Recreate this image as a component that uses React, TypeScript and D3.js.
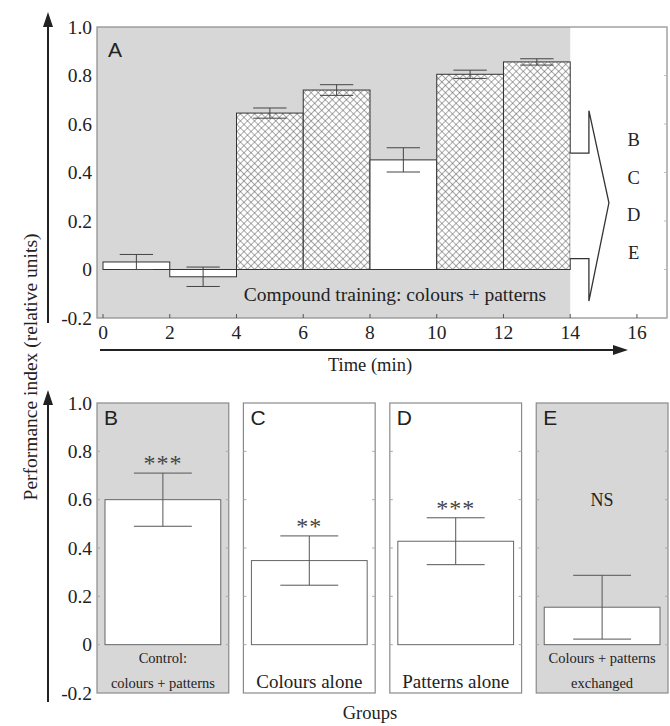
import * as d3 from "d3";

// top panel: 2-min bins during compound training
const timeStarts = [0, 2, 4, 6, 8, 10, 12];
const timeMeans = [0.031, -0.03, 0.645, 0.74, 0.452, 0.805, 0.856];
const timeErrs = [0.031, 0.04, 0.021, 0.022, 0.05, 0.017, 0.013];
const timeHatched = [false, false, true, true, false, true, true];
const timeTicks = [0, 2, 4, 6, 8, 10, 12, 14, 16];
const perfTicks = [1.0, 0.8, 0.6, 0.4, 0.2, 0, -0.2];
const perfTickLabels = ["1.0", "0.8", "0.6", "0.4", "0.2", "0", "-0.2"];

// bottom panel: test groups
const groups = ["B", "C", "D", "E"];
const groupMeans = [0.6, 0.348, 0.428, 0.155];
const groupErrs = [0.11, 0.102, 0.097, 0.132];
const groupSignif = ["***", "**", "***", "NS"];
const groupShaded = [true, false, false, true];
const groupLabels = [
  ["Control:", "colours + patterns"],
  ["Colours alone"],
  ["Patterns alone"],
  ["Colours + patterns", "exchanged"],
];

const W = 670;
const H = 726;
const serif = "Liberation Serif, DejaVu Serif, serif";
const sans = "Liberation Sans, DejaVu Sans, sans-serif";
const shade = "#d7d7d7";
const frame = "#8a8a8a";
const ink = "#222";

const T = (p: any) => <text {...p} style={{ fontFamily: p.ff ?? serif, ...(p.style || {}) }} />;

export default function App() {
  // top panel scales
  const x = d3.scaleLinear([-0.18, 16.9], [97, 667]);
  const y = d3.scaleLinear([-0.2, 1.0], [318, 27]);
  // bottom panel scales
  const g = d3.scaleBand(groups, [97, 668]).paddingInner(0.1).paddingOuter(0);
  const yb = d3.scaleLinear([-0.2, 1.0], [693, 403]);

  const binW = 2;
  const inset = 8;

  // outline arrow pointing from the training block to panels B-E
  const arrowPts: [number, number][] = [
    [14, 0.48], [14.56, 0.48], [14.56, 0.655], [15.16, 0.275],
    [14.56, -0.13], [14.56, 0.045], [14, 0.045],
  ];
  const arrowLine = d3.line<[number, number]>().x(d => x(d[0])).y(d => y(d[1]));

  return (
    <svg width={W} height={H} style={{ position: "absolute", left: 0, top: 0, background: "#fff" }}>
      <defs>
        <pattern id="xhatch" width="5" height="5" patternUnits="userSpaceOnUse" patternTransform="rotate(45)">
          <rect width="5" height="5" fill="#fff" />
          <line x1="0" y1="0" x2="0" y2="5" stroke="#555" strokeWidth="1" />
          <line x1="0" y1="0" x2="5" y2="0" stroke="#555" strokeWidth="1" />
        </pattern>
      </defs>

      {/* ---------- top panel A ---------- */}
      <rect x={x.range()[0]} y={y(1)} width={x(14) - x.range()[0]} height={y(-0.2) - y(1)} fill={shade} />
      <rect x={x.range()[0]} y={y(1)} width={x.range()[1] - x.range()[0]} height={y(-0.2) - y(1)}
        fill="none" stroke={frame} strokeWidth={1.2} />

      {timeTicks.map(t => (
        <line key={"xt" + t} x1={x(t)} x2={x(t)} y1={y(-0.2)} y2={y(-0.2) - 4} stroke="#555" />
      ))}
      {perfTicks.map(v => (
        <line key={"yr" + v} x1={x.range()[1]} x2={x.range()[1] - 3} y1={y(v)} y2={y(v)} stroke="#bbb" />
      ))}

      {timeStarts.map((s, i) => {
        const m = timeMeans[i];
        return (
          <rect key={"b" + i} x={x(s)} width={x(s + binW) - x(s)}
            y={Math.min(y(m), y(0))} height={Math.abs(y(m) - y(0))}
            fill={timeHatched[i] ? "url(#xhatch)" : "#fff"} stroke="#333" strokeWidth={1} />
        );
      })}
      {timeStarts.map((s, i) => {
        const c = x(s + binW / 2);
        const hw = (x(s + binW) - x(s)) / 4;
        const hi = y(timeMeans[i] + timeErrs[i]);
        const lo = y(timeMeans[i] - timeErrs[i]);
        return (
          <g key={"e" + i} stroke="#444" strokeWidth={1}>
            <line x1={c} x2={c} y1={hi} y2={lo} />
            <line x1={c - hw} x2={c + hw} y1={hi} y2={hi} />
            <line x1={c - hw} x2={c + hw} y1={lo} y2={lo} />
          </g>
        );
      })}

      <path d={arrowLine(arrowPts) ?? ""} fill="#fff" stroke="#333" strokeWidth={1.3} />
      {groups.map((l, i) => (
        <T key={"r" + l} x={x(15.9)} y={y(0.535 - i * 0.155)} dy="0.35em" textAnchor="middle"
          fontSize={18.5} fill={ink}>{l}</T>
      ))}

      <T ff={sans} x={108} y={57} fontSize={21} fill={ink}>A</T>
      <T x={x(8.75)} y={y(-0.1)} dy="0.35em" textAnchor="middle" fontSize={19.5} fill={ink}>
        Compound training: colours + patterns
      </T>

      {perfTicks.map((v, i) => (
        <T key={"yl" + v} x={92} y={y(v)} dy="0.35em" textAnchor="end" fontSize={19.5} fill={ink}>
          {perfTickLabels[i]}
        </T>
      ))}
      {timeTicks.map(t => (
        <T key={"xl" + t} x={x(t)} y={332} dy="0.35em" textAnchor="middle" fontSize={19.5} fill={ink}>
          {t}
        </T>
      ))}

      {/* time axis arrow */}
      <line x1={100} x2={616} y1={350} y2={350} stroke={ink} strokeWidth={2} />
      <path d="M628,350 L613,345 L613,355 Z" fill={ink} />
      <T x={370} y={365} dy="0.35em" textAnchor="middle" fontSize={18.5} fill={ink}>Time (min)</T>

      {/* vertical axis arrows */}
      <line x1={48} x2={48} y1={323} y2={24} stroke={ink} strokeWidth={2} />
      <path d="M48,12 L43,27 L53,27 Z" fill={ink} />
      <line x1={48} x2={48} y1={702} y2={402} stroke={ink} strokeWidth={2} />
      <path d="M48,390 L43,405 L53,405 Z" fill={ink} />
      <T transform="translate(30,367) rotate(-90)" dy="0.35em" textAnchor="middle"
        fontSize={19.5} fill={ink}>Performance index (relative units)</T>

      {/* ---------- bottom panels B-E ---------- */}
      {groups.map((k, i) => {
        const x0 = g(k) ?? 0;
        const bw = g.bandwidth();
        const c = x0 + bw / 2;
        const m = groupMeans[i];
        const hi = yb(m + groupErrs[i]);
        const lo = yb(m - groupErrs[i]);
        const hw = (bw - 2 * inset) / 4;
        const sigY = groupSignif[i] === "NS" ? yb(0.6) : hi - 14;
        const small = groupLabels[i].length > 1;
        return (
          <g key={"p" + k}>
            <rect x={x0} y={yb(1)} width={bw} height={yb(-0.2) - yb(1)}
              fill={groupShaded[i] ? shade : "#fff"} stroke={frame} strokeWidth={1.2} />
            {perfTicks.slice(1, 6).map(v => (
              <g key={"t" + v} stroke="#aaa">
                <line x1={x0} x2={x0 + 3} y1={yb(v)} y2={yb(v)} />
                <line x1={x0 + bw} x2={x0 + bw - 3} y1={yb(v)} y2={yb(v)} />
              </g>
            ))}
            <rect x={x0 + inset} y={yb(m)} width={bw - 2 * inset} height={yb(0) - yb(m)}
              fill="#fff" stroke="#666" strokeWidth={1} />
            <g stroke="#555" strokeWidth={1}>
              <line x1={c} x2={c} y1={hi} y2={lo} />
              <line x1={c - hw} x2={c + hw} y1={hi} y2={hi} />
              <line x1={c - hw} x2={c + hw} y1={lo} y2={lo} />
            </g>
            {groupSignif[i] === "NS" ? (
              <T x={c} y={sigY} dy="0.35em" textAnchor="middle" fontSize={18} fill={ink}>NS</T>
            ) : (
              <T x={c} y={sigY + 12} textAnchor="middle" fontSize={24} fill="#444"
                letterSpacing={1}>{groupSignif[i]}</T>
            )}
            <T ff={sans} x={x0 + 7} y={425} fontSize={21} fill={ink}>{k}</T>
            {groupLabels[i].map((t, j) => (
              <T key={t} x={c} y={small ? yb(-0.055 - j * 0.105) : yb(-0.15)} dy="0.35em" textAnchor="middle"
                fontSize={small ? 14.5 : 19} fill={ink}>{t}</T>
            ))}
          </g>
        );
      })}

      {perfTicks.map((v, i) => (
        <T key={"byl" + v} x={92} y={yb(v)} dy="0.35em" textAnchor="end" fontSize={19.5} fill={ink}>
          {perfTickLabels[i]}
        </T>
      ))}
      <T x={370} y={713} dy="0.35em" textAnchor="middle" fontSize={18.5} fill={ink}>Groups</T>
    </svg>
  );
}
